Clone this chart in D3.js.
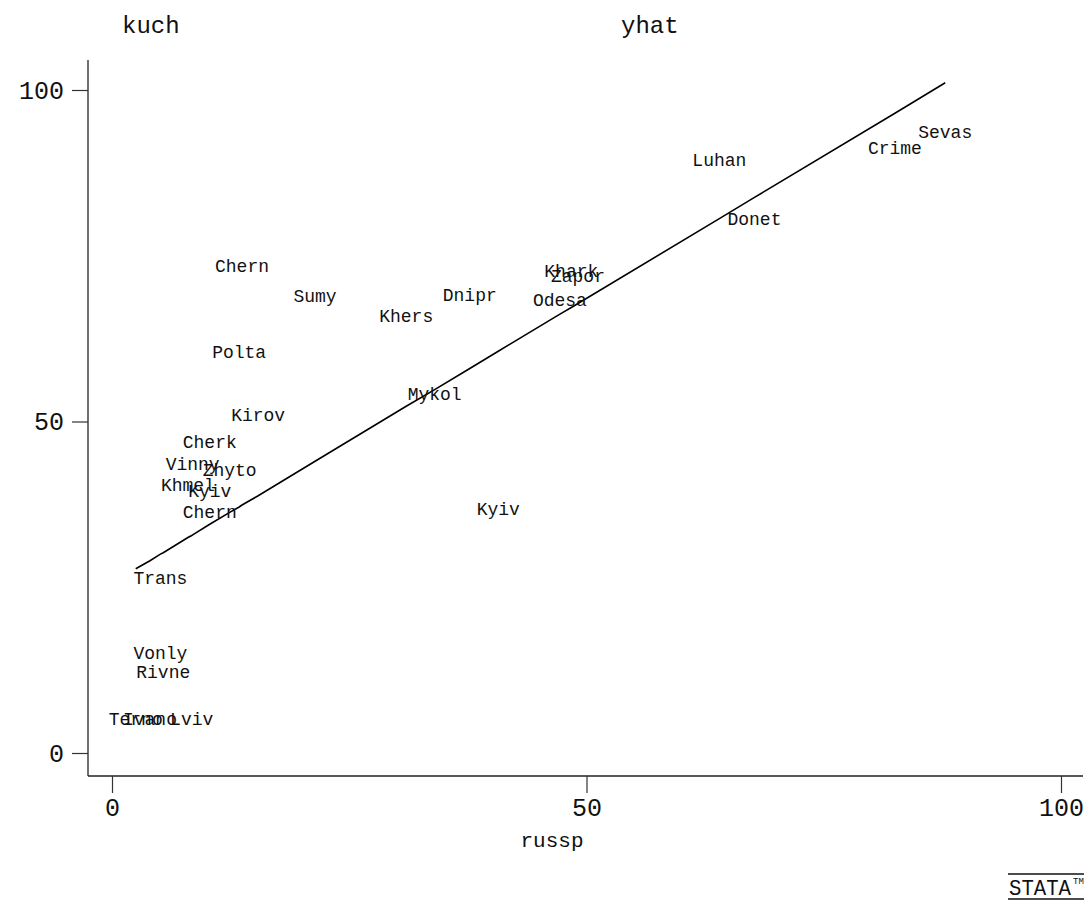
<!DOCTYPE html>
<html>
<head>
<meta charset="utf-8">
<script src="https://d3js.org/d3.v7.min.js"></script>
<style>
  body { margin: 0; background: #fff; }
  text { font-family: "Liberation Mono", "DejaVu Sans Mono", monospace; fill: #111; }
</style>
</head>
<body>
<div class="graph"></div>
<script>

// region short names, used as the plotting symbol
const regions = ["Chern", "Sumy", "Khers", "Dnipr", "Khark", "Zapor", "Odesa", "Polta", "Mykol",
	"Kirov", "Cherk", "Vinny", "Zhyto", "Khmel", "Kyiv", "Chern", "Kyiv", "Trans", "Vonly",
	"Rivne", "Terno", "Ivano", "Lviv", "Luhan", "Donet", "Crime", "Sevas"];

// russian speakers (%)
const russp = [13.7, 21.4, 31.0, 37.7, 48.4, 49.1, 47.2, 13.4, 34.0,
	15.4, 10.3, 8.5, 12.4, 8.0, 10.3, 10.3, 40.7, 5.1, 5.1,
	5.4, 2.5, 4.0, 8.4, 64.0, 67.7, 82.5, 87.8];

// kuchma vote (%)
const kuch = [73.3, 68.8, 65.8, 68.9, 72.5, 71.8, 68.2, 60.3, 54.0,
	50.8, 46.8, 43.4, 42.5, 40.3, 39.4, 36.2, 36.7, 26.2, 14.9,
	12.1, 5.0, 5.0, 5.0, 89.3, 80.4, 91.1, 93.5];

// fitted values
const yhat = [37.4, 44.0, 52.3, 58.0, 67.2, 67.8, 66.2, 37.1, 54.8,
	38.8, 34.5, 32.9, 36.3, 32.5, 34.5, 34.5, 60.6, 30.0, 30.0,
	30.2, 27.8, 29.0, 32.8, 80.6, 83.8, 96.5, 101.1];

const xTicks = [0, 50, 100];
const yTicks = [0, 50, 100];

let width = 1092;
let height = 916;

let svg = d3.select(".graph")
	.append("svg")
	.attr("width", width)
	.attr("height", height);

let x = d3.scaleLinear().domain([0, 100]).range([112, 1061]);
let y = d3.scaleLinear().domain([0, 100]).range([753, 90]);

let points = regions.map(function(name, i){
	return {name: name, x: russp[i], y: kuch[i], fit: yhat[i]};
});

// axis lines are plain, ticks come from the scales
let axisY = 88;
let axisX = 776;

svg.append("line")
	.attr("x1", axisY).attr("x2", axisY)
	.attr("y1", 60).attr("y2", axisX)
	.attr("stroke", "#222").attr("stroke-width", 1.3);

svg.append("line")
	.attr("x1", axisY).attr("x2", 1083)
	.attr("y1", axisX).attr("y2", axisX)
	.attr("stroke", "#222").attr("stroke-width", 1.6);

let yAxis = d3.axisLeft(y).tickValues(yTicks).tickSize(16).tickPadding(8);
let gy = svg.append("g")
	.attr("transform", "translate(" + axisY + ",0)")
	.call(yAxis);

let xAxis = d3.axisBottom(x).tickValues(xTicks).tickSize(17).tickPadding(5);
let gx = svg.append("g")
	.attr("transform", "translate(0," + axisX + ")")
	.call(xAxis);

[gx, gy].forEach(function(g){
	g.select(".domain").remove();
	g.selectAll(".tick line").attr("stroke", "#333").attr("stroke-width", 1.2);
	g.selectAll(".tick text")
		.attr("font-family", "Liberation Mono, DejaVu Sans Mono, monospace")
		.attr("font-size", 25)
		.attr("fill", "#111");
});

// axis titles
svg.append("text")
	.attr("x", 122).attr("y", 33)
	.attr("font-size", 24)
	.text("kuch");

svg.append("text")
	.attr("x", 621).attr("y", 33)
	.attr("font-size", 24)
	.text("yhat");

svg.append("text")
	.attr("x", 552).attr("y", 847)
	.attr("text-anchor", "middle")
	.attr("font-size", 21)
	.text("russp");

// fitted line, sorted by x
let sorted = points.slice().sort(function(a, b){ return a.x - b.x; });
let line = d3.line()
	.x(function(d){ return x(d.x); })
	.y(function(d){ return y(d.fit); });

svg.append("path")
	.datum(sorted)
	.attr("d", line)
	.attr("fill", "none")
	.attr("stroke", "#000")
	.attr("stroke-width", 1.6);

// names as markers
svg.selectAll(".name")
	.data(points)
	.enter()
	.append("text")
	.attr("class", "name")
	.attr("x", function(d){ return x(d.x); })
	.attr("y", function(d){ return y(d.y); })
	.attr("text-anchor", "middle")
	.attr("dominant-baseline", "central")
	.attr("font-size", 18)
	.text(function(d){ return d.name; });

// stata logo, bottom right
let logo = svg.append("g").attr("transform", "translate(1008,874)");
logo.append("line").attr("x1", 0).attr("x2", 76).attr("y1", 0).attr("y2", 0)
	.attr("stroke", "#111").attr("stroke-width", 1.3);
logo.append("line").attr("x1", 0).attr("x2", 76).attr("y1", 25).attr("y2", 25)
	.attr("stroke", "#111").attr("stroke-width", 1.3);
logo.append("text")
	.attr("x", 1).attr("y", 21)
	.attr("font-size", 22)
	.attr("textLength", 62)
	.attr("lengthAdjust", "spacingAndGlyphs")
	.text("STATA");
logo.append("text")
	.attr("x", 65).attr("y", 10)
	.attr("font-size", 9)
	.text("TM");

</script>
</body>
</html>
